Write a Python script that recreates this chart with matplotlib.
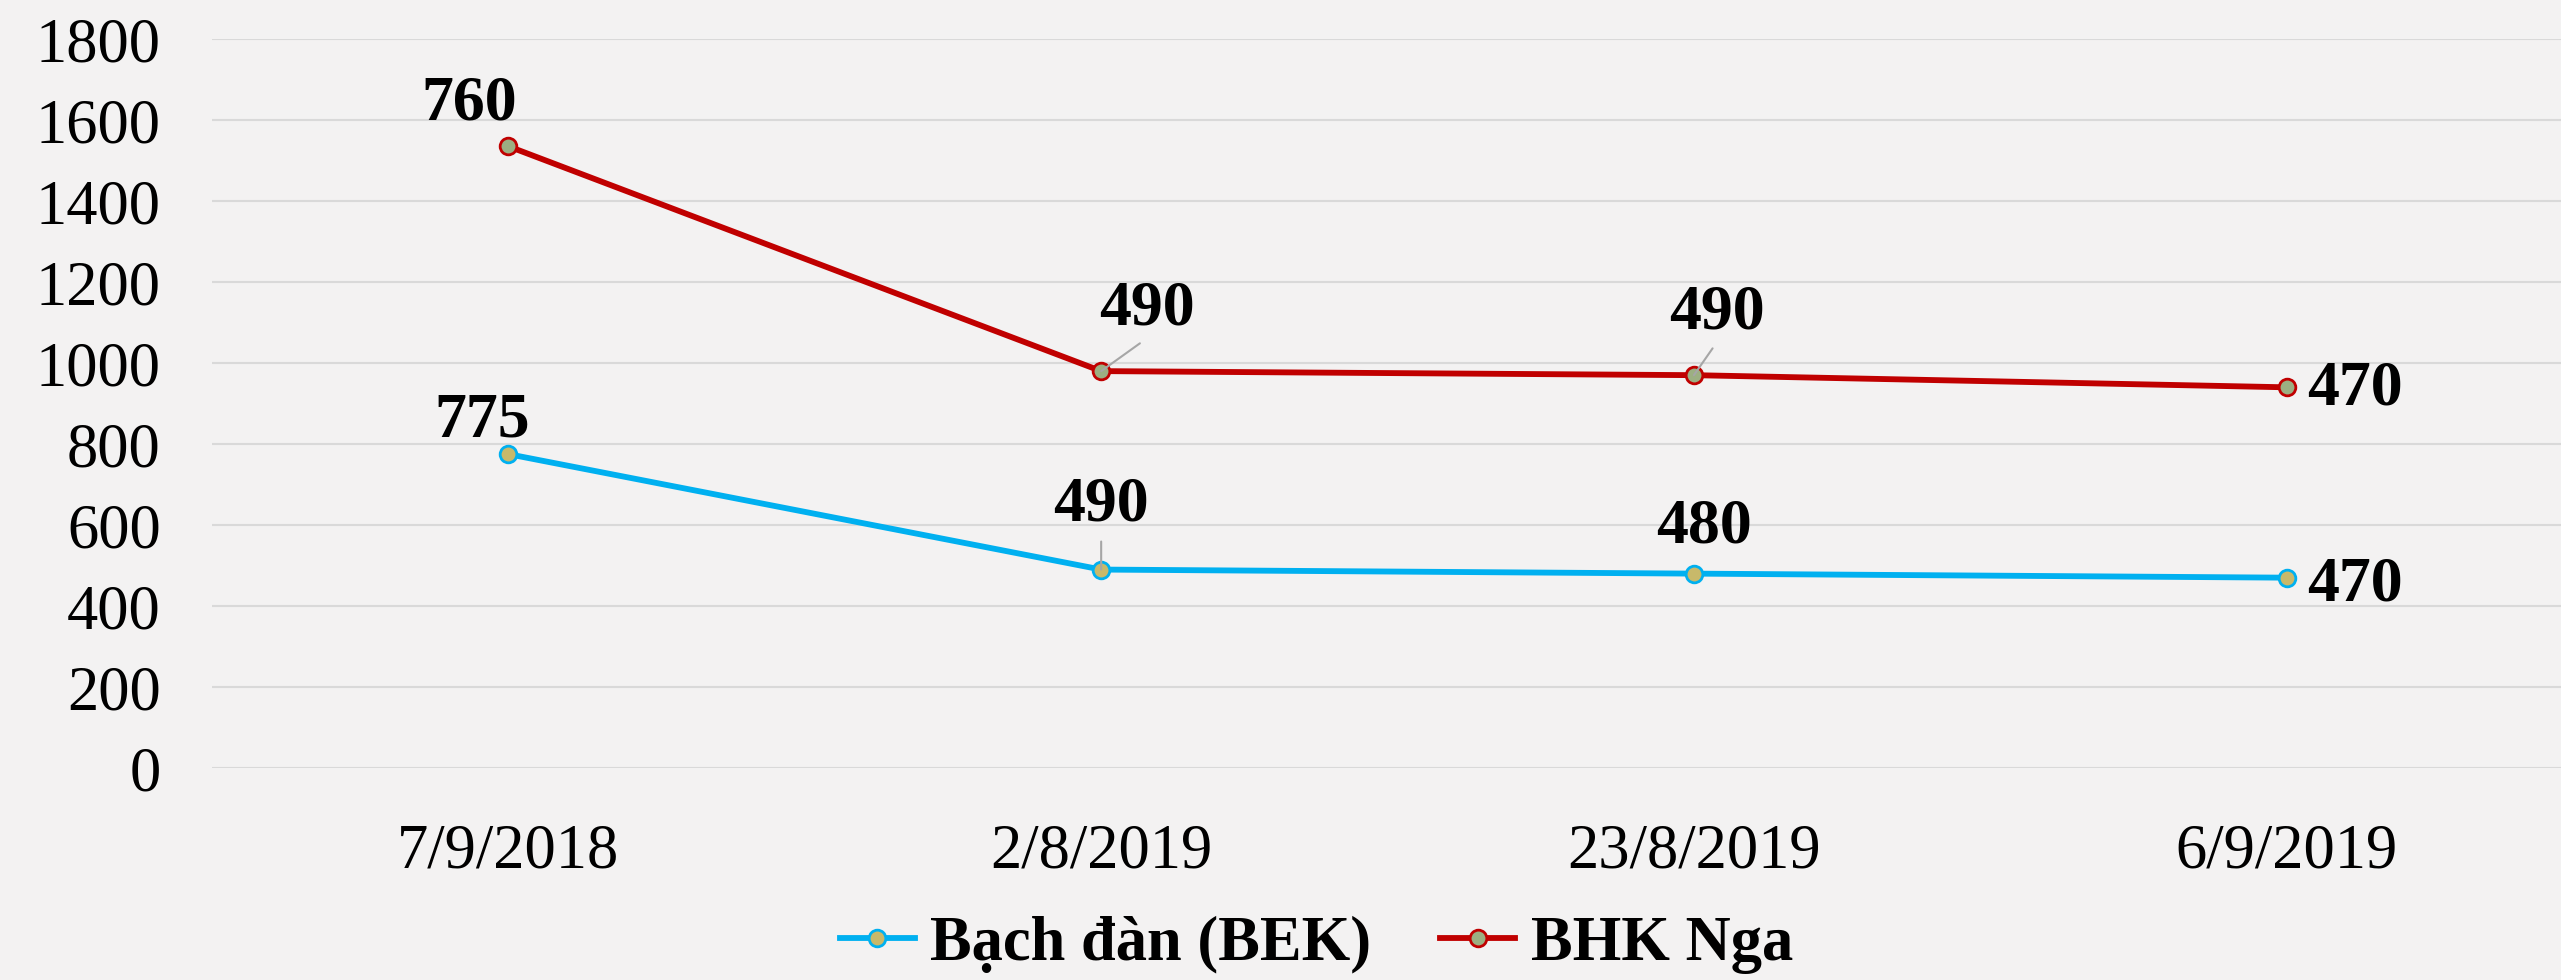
import numpy as np
import matplotlib
matplotlib.use("Agg")
import matplotlib.pyplot as plt

# data
dates = ["7/9/2018", "2/8/2019", "23/8/2019", "6/9/2019"]
bek = [775, 490, 480, 470]        # Bạch đàn (BEK)
nga = [760, 490, 490, 470]        # BHK Nga (stacked on top of BEK)
yticks = [0, 200, 400, 600, 800, 1000, 1200, 1400, 1600, 1800]

plt.rcParams['font.family'] = ['Liberation Serif', 'DejaVu Serif']

fig = plt.figure(figsize=(25.61, 9.80), dpi=100)
fig.patch.set_facecolor('#f3f2f2')
ax = fig.add_axes([0.0828, 0.2163, 0.9258, 0.7439])
ax.set_facecolor('none')

x = np.arange(len(dates))
bek = np.array(bek)
top = bek + np.array(nga)

blue, red = '#00b0f0', '#c00000'
ax.plot(x, bek, color=blue, lw=4.2, marker='o', ms=12,
        mfc='#c8b96a', mec=blue, mew=2, label='Bạch đàn (BEK)', zorder=3)
ax.plot(x, top, color=red, lw=4.2, marker='o', ms=12,
        mfc='#9caf82', mec=red, mew=2, label='BHK Nga', zorder=3)

ax.set_xlim(-0.5, 3.5)
ax.set_ylim(0, 1800)
ax.set_yticks(yticks)
ax.set_xticks(x)
ax.set_xticklabels(dates)
ax.yaxis.grid(True, color='#d9d9d9', lw=1.5)
ax.set_axisbelow(True)
for s in ax.spines.values():
    s.set_visible(False)
ax.tick_params(axis='both', length=0, labelsize=45)
ax.tick_params(axis='y', pad=37)
ax.tick_params(axis='x', pad=40)

# data labels (offsets in pixels)
lbl = dict(textcoords='offset pixels', fontsize=46, fontweight='bold',
           ha='center', va='center')
lead = dict(arrowstyle='-', color='#a6a6a6', lw=1.5, shrinkA=3, shrinkB=0,
            relpos=(0.5, 0.0))
ax.annotate(str(nga[0]), (x[0], top[0]), xytext=(-39, 42), **lbl)
ax.annotate(str(bek[0]), (x[0], bek[0]), xytext=(-26, 33), **lbl)
ax.annotate(str(nga[1]), (x[1], top[1]), xytext=(46, 62), arrowprops=lead, **lbl)
ax.annotate(str(bek[1]), (x[1], bek[1]), xytext=(0, 64), arrowprops=lead, **lbl)
ax.annotate(str(nga[2]), (x[2], top[2]), xytext=(23, 62), arrowprops=lead, **lbl)
ax.annotate(str(bek[2]), (x[2], bek[2]), xytext=(10, 46), **lbl)
ax.annotate(str(nga[3]), (x[3], top[3]), xytext=(68, -2), **lbl)
ax.annotate(str(bek[3]), (x[3], bek[3]), xytext=(68, -8), **lbl)

leg = fig.legend(loc='center', bbox_to_anchor=(0.514, 0.036), ncol=2,
                 frameon=False, handlelength=1.2, columnspacing=1.1,
                 handletextpad=0.25,
                 prop={'family': 'Liberation Serif', 'weight': 'bold', 'size': 45})

fig.savefig('out.png', dpi=100, facecolor=fig.get_facecolor())
